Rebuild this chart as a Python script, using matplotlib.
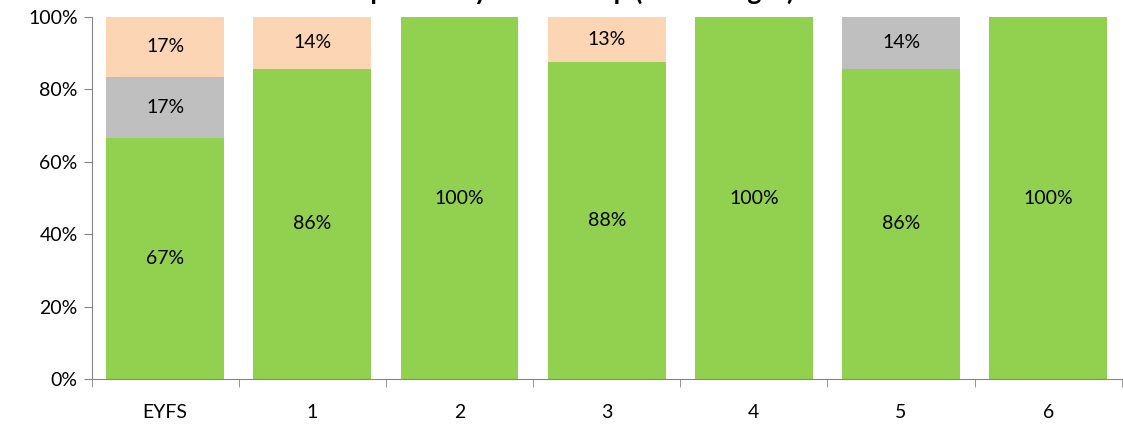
import numpy as np
import matplotlib.pyplot as plt

# year groups and response shares (percent)
groups = ["EYFS", "1", "2", "3", "4", "5", "6"]
green = [66.7, 85.7, 100, 87.5, 100, 85.7, 100]
grey = [16.7, 0, 0, 0, 0, 14.3, 0]
peach = [16.7, 14.3, 0, 12.5, 0, 0, 0]

plt.rcParams['font.family'] = ['Lato', 'DejaVu Sans']
fig = plt.figure(figsize=(11.23, 4.24), dpi=100)
ax = fig.add_axes([91.5/1123, 45/424, 1 - 91.5/1123 - 0.001, 362/424])

x = np.arange(len(groups))
w = 0.8
cols = ["#92D050", "#BFBFBF", "#FCD5B4"]
bottom = np.zeros(len(groups))
for vals, c in zip([green, grey, peach], cols):
    vals = np.array(vals, dtype=float)
    ax.bar(x, vals, w, bottom=bottom, color=c, zorder=2)
    for xi, b, v in zip(x, bottom, vals):
        if v > 0:
            ax.text(xi, b + v/2, f"{int(v + 0.5)}%", ha="center", va="center", fontsize=14)
    bottom += vals

ax.set_xlim(-0.5, len(groups) - 0.5)
ax.set_ylim(0, 100)
ax.set_yticks(range(0, 101, 20))
ax.set_yticklabels([f"{v}%" for v in range(0, 101, 20)], fontsize=14)
ax.set_xticks(x)
ax.set_xticklabels(groups, fontsize=14)
ax.set_xticks(np.arange(-0.5, len(groups)), minor=True)
ax.tick_params(axis="x", which="major", length=0, pad=18)
ax.tick_params(axis="x", which="minor", length=6, color="#868686")
ax.tick_params(axis="y", length=6, color="#868686", pad=4)
for s in ["top", "right"]:
    ax.spines[s].set_visible(False)
for s in ["left", "bottom"]:
    ax.spines[s].set_color("#868686")

fig.text(0.5, 1.02, "Responses by Year Group (Percentages)", ha="center", va="center",
         fontsize=19, fontweight="bold")
fig.savefig("out.png", dpi=100)
